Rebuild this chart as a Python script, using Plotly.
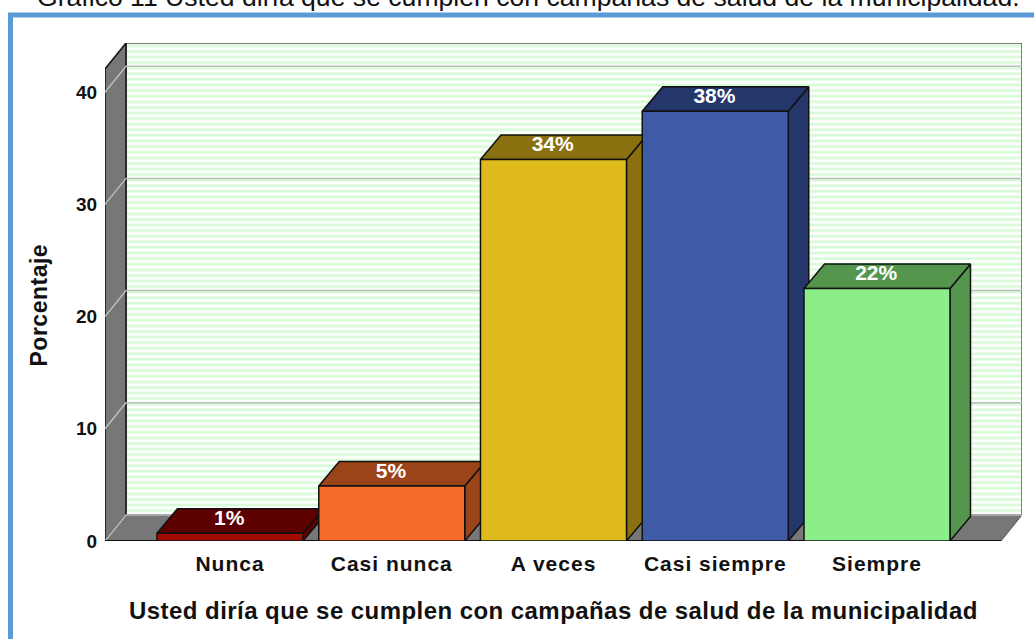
import plotly.graph_objects as go

categories = ["Nunca", "Casi nunca", "A veces", "Casi siempre", "Siempre"]
values = [0.7, 4.9, 34.0, 38.3, 22.5]
labels = ["1%", "5%", "34%", "38%", "22%"]
front_colors = ["#a30a00", "#f66a2a", "#e0bb1e", "#3f5ba8", "#8bee88"]
dark_colors = ["#5c0000", "#9c4419", "#8b7010", "#25366b", "#55964f"]
y_ticks = [0, 10, 20, 30, 40]

W, H = 1034, 639
L, R, T, B = 105, 1022, 43, 541
PX_Y = 11.22
PX_X = 161.75
X0 = (L - 230) / PX_X
X1 = (R - 230) / PX_X
Y1 = (B - T) / PX_Y
DX = 21 / PX_X
DY = 26 / PX_Y
BDX = 20.5 / PX_X
BDY = 24.5 / PX_Y
BW = 146 / PX_X
FX1 = X1 - DX
FY1 = Y1 - DY
LINE = "#111111"


def px(x):
    return (x - L) / (R - L)


def py(y):
    return (B - y) / (B - T)


def poly(xs, ys, fill, line=LINE, width=1.5):
    return go.Scatter(
        x=xs + xs[:1], y=ys + ys[:1], mode="lines", fill="toself", fillcolor=fill,
        line=dict(color=line, width=width), hoverinfo="skip", showlegend=False,
    )


fig = go.Figure()

# back wall with stripes
fig.add_trace(go.Bar(
    x=[(X0 + DX + X1) / 2], y=[Y1 - DY], base=[DY], width=[X1 - X0 - DX],
    marker=dict(color="#ffffff", line=dict(color="#555555", width=1.5),
                pattern=dict(shape="-", size=5.6, solidity=0.5, fgcolor="#d8fad8", bgcolor="#ffffff", fillmode="replace")),
    hoverinfo="skip", showlegend=False,
))

# side wall and floor
fig.add_trace(poly([X0, X0 + DX, X0 + DX, X0], [0, DY, Y1, FY1], "#777777"))
fig.add_trace(poly([X0, FX1, X1, X0 + DX], [0, 0, DY, DY], "#777777", line="#555555", width=1))

# grid lines
for t in y_ticks:
    fig.add_trace(go.Scatter(
        x=[X0, X0 + DX, X1], y=[t, t + DY, t + DY], mode="lines",
        line=dict(color="#bdbdbd", width=1.5), hoverinfo="skip", showlegend=False,
    ))
# front base line
fig.add_trace(go.Scatter(x=[X0, FX1], y=[0, 0], mode="lines", line=dict(color=LINE, width=2),
                         hoverinfo="skip", showlegend=False))

# bars
for i, v in enumerate(values):
    a, b = i - BW / 2, i + BW / 2
    fig.add_trace(poly([b, b + BDX, b + BDX, b], [0, BDY, v + BDY, v], dark_colors[i]))
    fig.add_trace(poly([a, a + BDX, b + BDX, b], [v, v + BDY, v + BDY, v], dark_colors[i]))
    fig.add_trace(poly([a, b, b, a], [0, 0, v, v], front_colors[i]))

# value labels
fig.add_trace(go.Scatter(
    x=[i - 0.005 for i in range(len(values))], y=[v + BDY * 0.55 for v in values], mode="text", text=labels,
    textposition="middle center", textfont=dict(family="Liberation Sans", size=21, color="white", weight="bold"),
    hoverinfo="skip", showlegend=False,
))

frame = dict(type="rect", xref="paper", yref="paper", x0=px(10.5), x1=px(1050), y0=py(15), y1=py(660),
             line=dict(color="#5b9bd5", width=5), fillcolor="rgba(0,0,0,0)", layer="above")
fig.update_layout(
    width=W, height=H, autosize=False, margin=dict(l=L, r=W - R, t=T, b=H - B),
    paper_bgcolor="white", plot_bgcolor="white", showlegend=False, barmode="overlay", shapes=[frame],
    xaxis=dict(range=[X0, X1], tickmode="array", tickvals=list(range(5)), ticktext=categories,
               showgrid=False, zeroline=False, showline=False, ticks="outside", ticklen=4, tickcolor="rgba(0,0,0,0)",
               tickfont=dict(family="Liberation Sans", size=21, color="#111111", weight="bold")),
    yaxis=dict(range=[0, Y1], tickmode="array", tickvals=y_ticks, showgrid=False, zeroline=False, showline=False,
               ticks="outside", ticklen=3, tickcolor="rgba(0,0,0,0)",
               tickfont=dict(family="Liberation Sans", size=19, color="#111111", weight="bold")),
    annotations=[
        dict(text="Gráfico 11 Usted diría que se cumplen con campañas de salud de la municipalidad.",
             xref="paper", yref="paper", x=px(528.5), y=py(-3), xanchor="center", yanchor="middle", showarrow=False,
             font=dict(family="Liberation Sans", size=26.6, color="#111111")),
        dict(text="Usted diría que se cumplen con campañas de salud de la municipalidad",
             xref="paper", yref="paper", x=px(553.5), y=py(610), xanchor="center", yanchor="middle", showarrow=False,
             font=dict(family="Liberation Sans", size=24, color="#111111", weight="bold")),
        dict(text="Porcentaje", textangle=-90, xref="paper", yref="paper", x=px(39), y=py(305),
             xanchor="center", yanchor="middle", showarrow=False,
             font=dict(family="Liberation Sans", size=23, color="#111111", weight="bold")),
    ],
)
css = (".xtick text{letter-spacing:1px}"
       ".annotation[data-index='1'] text{letter-spacing:0.44px}"
       ".annotation[data-index='2'] text{letter-spacing:0.5px}")
post = ("document.body.style.margin='0';document.body.style.overflow='hidden';"
        "var s=document.createElement('style');s.textContent=\"" + css + "\";document.head.appendChild(s);")
fig.write_html("out.html", post_script=post, config={"displayModeBar": False})
